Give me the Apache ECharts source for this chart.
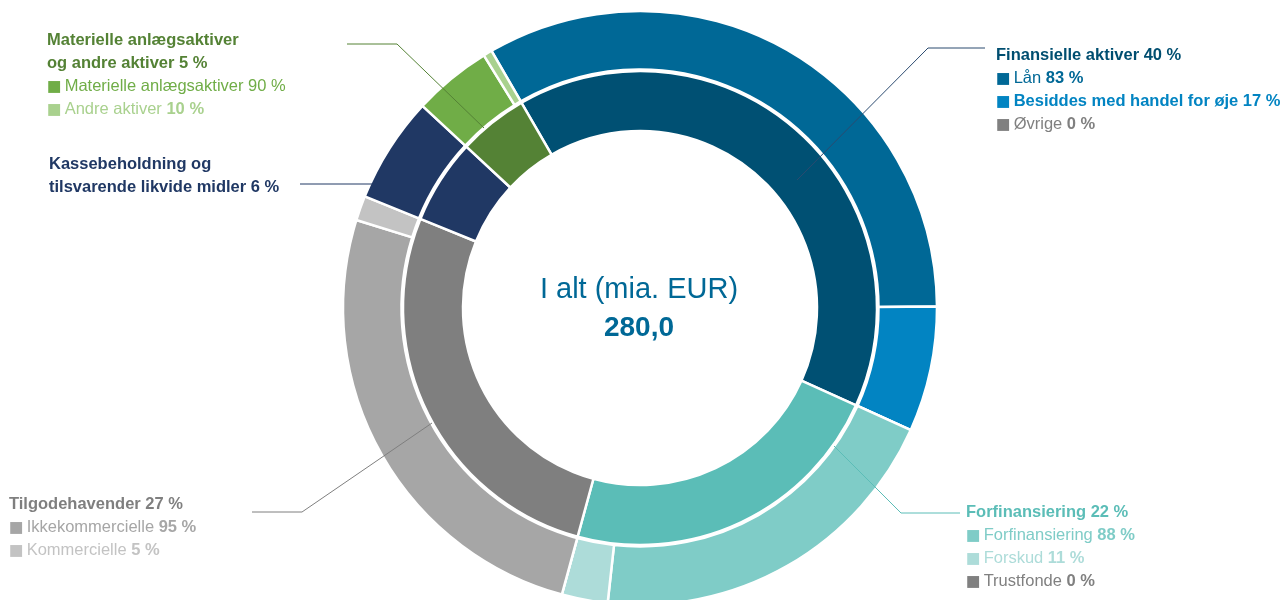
<!DOCTYPE html>
<html>
<head>
<meta charset="utf-8">
<script src="https://cdn.jsdelivr.net/npm/echarts@6/dist/echarts.min.js"></script>
<style>
    html,body{margin:0;padding:0;background:#fff;}
    #chart{width:1282px;height:600px;}
</style>
</head>
<body>
<div id="chart"></div>
<script>
    // inderste ring: hovedposter
    const groupNames = ['Finansielle aktiver', 'Forfinansiering', 'Tilgodehavender',
        'Kassebeholdning og tilsvarende likvide midler', 'Materielle anlægsaktiver og andre aktiver'];
    const groupTitles = ['Finansielle aktiver', 'Forfinansiering', 'Tilgodehavender',
        'Kassebeholdning og\ntilsvarende likvide midler', 'Materielle anlægsaktiver\nog andre aktiver'];
    const groupShares = [40, 22, 27, 6, 5];                 // procent, som vist i teksten
    const groupValues = [112.2, 63.0, 75.3, 16.2, 13.3];    // mia. EUR, aflæst (i alt 280,0)

    // yderste ring: fordeling inden for hver hovedpost (%)
    const finNames = ['Lån', 'Besiddes med handel for øje', 'Øvrige'];
    const finShares = [83, 17, 0];
    const forfNames = ['Forfinansiering', 'Forskud', 'Trustfonde'];
    const forfShares = [88, 11, 0];
    const tilgNames = ['Ikkekommercielle', 'Kommercielle'];
    const tilgShares = [95, 5];
    const kasseNames = ['Kassebeholdning og tilsvarende likvide midler'];
    const kasseShares = [100];
    const matNames = ['Materielle anlægsaktiver', 'Andre aktiver'];
    const matShares = [90, 10];

    const totalLabel = 'I alt (mia. EUR)';
    const totalValue = '280,0';

    const subNames = [finNames, forfNames, tilgNames, kasseNames, matNames];
    const subShares = [finShares, forfShares, tilgShares, kasseShares, matShares];

    const innerColors = ['#005073', '#5bbdb7', '#7f7f7f', '#203864', '#548235'];
    const titleColors = ['#004e70', '#5bbdb7', '#7f7f7f', '#203864', '#548235'];
    const subColors = [
        ['#006896', '#0284c2', '#808080'],
        ['#7fccc7', '#addcd9', '#808080'],
        ['#a6a6a6', '#c3c3c3'],
        ['#203864'],
        ['#70ad47', '#a9d18e']
    ];
    // hvilke dele af legendelinjerne er fede: [navn, procent]
    const subBold = [
        [[false, true], [true, true], [false, true]],
        [[false, true], [false, true], [false, true]],
        [[false, true], [false, true]],
        [],
        [[false, false], [false, true]]
    ];
    const labelPos = [[996, 44], [966, 501], [9, 493], [49, 153], [47, 29]];
    const showSubs = [true, true, true, false, true];

    const innerData = groupNames.map((n, i) => ({
        name: n, value: groupValues[i], itemStyle: {color: innerColors[i]}
    }));
    let outerData = [];
    subNames.forEach((names, g) => {
        let sum = subShares[g].reduce((a, b) => a + b, 0);
        names.forEach((n, j) => {
            outerData.push({
                name: n,
                value: groupValues[g] * subShares[g][j] / sum,
                itemStyle: {color: subColors[g][j]}
            });
        });
    });

    const FONT = '"Liberation Sans", Arial, sans-serif';
    const FS = 16.5;
    function labelBlock(g){
        let rich = {
            t: {fontFamily: FONT, fontSize: FS, fontWeight: 'bold', fill: titleColors[g], lineHeight: 23}
        };
        let lines = groupTitles[g].split('\n');
        lines[lines.length - 1] += ' ' + groupShares[g] + ' %';
        let text = lines.map(l => '{t|' + l + '}');
        if(showSubs[g]){
            subNames[g].forEach((n, j) => {
                let c = subColors[g][j];
                rich['m' + j] = {fontFamily: '"DejaVu Sans"', fontSize: 15.5, fill: c, lineHeight: 23, padding: [0, 3, 0, 0]};
                rich['n' + j] = {fontFamily: FONT, fontSize: FS, fill: c, lineHeight: 23,
                    fontWeight: subBold[g][j][0] ? 'bold' : 'normal'};
                rich['p' + j] = {fontFamily: FONT, fontSize: FS, fill: c, lineHeight: 23,
                    fontWeight: subBold[g][j][1] ? 'bold' : 'normal'};
                text.push('{m' + j + '|■}{n' + j + '|' + n + '}{p' + j + '| ' + subShares[g][j] + ' %}');
            });
        }
        return {
            type: 'text', z: 100, x: labelPos[g][0], y: labelPos[g][1],
            style: {text: text.join('\n'), rich: rich, lineHeight: 23}
        };
    }

    const leader = (pts, color) => ({
        type: 'polyline', z: 90, shape: {points: pts},
        style: {stroke: color, lineWidth: 1, fill: null}
    });

    const chart = echarts.init(document.getElementById('chart'));
    chart.setOption({
        animation: false,
        series: [
            {
                type: 'pie', center: [640, 308], radius: [177, 237], startAngle: 120,
                clockwise: true, label: {show: false}, labelLine: {show: false},
                silent: true, itemStyle: {borderColor: '#fff', borderWidth: 2.5},
                data: innerData
            },
            {
                type: 'pie', center: [640, 308], radius: [238.5, 297], startAngle: 120,
                clockwise: true, label: {show: false}, labelLine: {show: false},
                silent: true, itemStyle: {borderColor: '#fff', borderWidth: 2.5},
                data: outerData
            }
        ],
        graphic: [
            leader([[985, 48], [928, 48], [797, 180]], '#2b4a6f'),
            leader([[347, 44], [397, 44], [484, 128]], '#548235'),
            leader([[300, 184], [372, 184]], '#203864'),
            leader([[252, 512], [302, 512], [432, 423]], '#7f7f7f'),
            leader([[960, 513], [901, 513], [834, 446]], '#5bbdb7'),
            labelBlock(0), labelBlock(1), labelBlock(2), labelBlock(3), labelBlock(4),
            {
                type: 'text', z: 100, x: 639, y: 290,
                style: {text: totalLabel, fill: '#006896', font: '29px ' + FONT, textAlign: 'center', textVerticalAlign: 'middle'}
            },
            {
                type: 'text', z: 100, x: 639, y: 328,
                style: {text: totalValue, fill: '#006896', font: 'bold 28px ' + FONT, textAlign: 'center', textVerticalAlign: 'middle'}
            }
        ]
    });
    window.addEventListener('resize', chart.resize);
</script>
</body>
</html>
